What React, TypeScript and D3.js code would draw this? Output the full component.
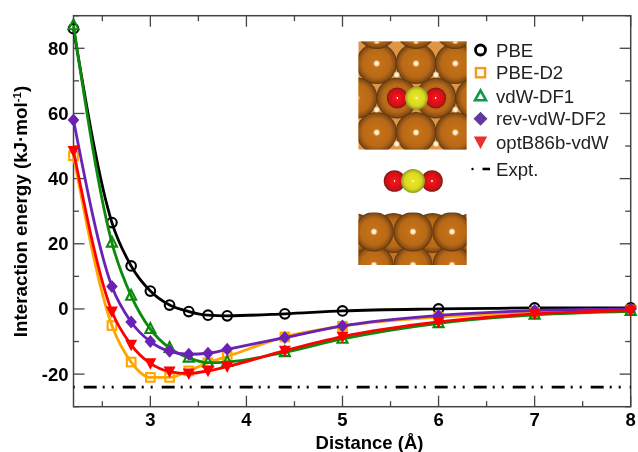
import React from "react";
import * as d3 from "d3";

const distances = [2.2, 2.6, 2.8, 3.0, 3.2, 3.4, 3.6, 3.8, 4.4, 5, 6, 7, 8];
const pbe = [86, 26.5, 13.2, 5.5, 1.2, -0.8, -1.9, -2.1, -1.5, -0.6, 0, 0.3, 0.3];
const pbeD2 = [47, -5.1, -16.3, -21, -21, -19, -16.5, -14.6, -8.6, -5.3, -2.5, -1, -0.3];
const vdwDf1 = [87, 20.3, 4, -6.2, -12, -15, -16.5, -16.3, -13.3, -9.2, -4.4, -1.8, -0.7];
const revVdwDf2 = [58, 6.9, -4, -10, -13, -13.9, -13.6, -12.4, -8.8, -5.2, -2, -0.5, 0];
const optB86b = [48.5, -0.8, -11, -16.7, -19.2, -19.8, -19, -17.7, -12.8, -8.5, -4, -1.5, -0.5];
const expt = -24;

const xMajor = [3, 4, 5, 6, 7, 8];
const xMinor = [2.5, 3.5, 4.5, 5.5, 6.5, 7.5];
const yMajor = [-20, 0, 20, 40, 60, 80];
const yMinor = [-30, -10, 10, 30, 50, 70, 90];

const legendNames = ["PBE", "PBE-D2", "vdW-DF1", "rev-vdW-DF2", "optB86b-vdW"];
const legendColors = ["#000000", "#f59a1e", "#0c9a4a", "#5e3a9e", "#e8312a"];
const seriesColors = ["#000000", "#ffa500", "#0a8a0a", "#6b22b5", "#ff0000"];
const seriesValues = [pbe, pbeD2, vdwDf1, revVdwDf2, optB86b];
const legendY = [50, 72.7, 96, 118.7, 142];

const topCols = [376.7, 416, 455.3];
const topOffsetCols = [357, 396.7, 436, 475.7];
const topRows = [63.5, 132.5];
const topMiddleRow = 98;
const topDots: [number, number][] = [
  [376.7, 41], [416, 41], [455.3, 41], [396.7, 74.7], [436, 74.7],
  [376.7, 109.7], [455.3, 109.7], [396.7, 144], [436, 144],
];
const sideFrontCols = [374, 413, 452];
const sideBackCols = [354, 393.5, 432.5, 472];

const W = 638, H = 452;
const margin = { left: 73.5, right: 630.7, top: 15.7, bottom: 406.7 };
const x = d3.scaleLinear().domain([2.2, 8]).range([margin.left, margin.right]);
const y = d3.scaleLinear().domain([-30, 90]).range([margin.bottom, margin.top]);
const AXIS = "#444";
const FONT = "'Liberation Sans', Arial, sans-serif";

function Marker({ i, cx, cy, legend }: { i: number; cx: number; cy: number; legend?: boolean }) {
  const c = legend ? legendColors[i] : seriesColors[i];
  const t = `translate(${cx},${cy})`;
  if (legend) {
    if (i === 0) return <circle cx={cx} cy={cy} r={5} fill="none" stroke={c} strokeWidth={2.8} />;
    if (i === 1) return <rect x={cx - 4.6} y={cy - 4.6} width={9.2} height={9.2} fill="none" stroke={c} strokeWidth={2.4} />;
    if (i === 2) return <path transform={t} d="M0,-5.5L5.5,4.2L-5.5,4.2Z" fill="none" stroke={c} strokeWidth={2.6} />;
    if (i === 3) return <path transform={t} d="M0,-7L7,0L0,7L-7,0Z" fill={c} />;
    return <path transform={t} d="M-6.7,-5.5L6.7,-5.5L0,7Z" fill={c} />;
  }
  const sw = 2.1;
  if (i === 0) return <circle cx={cx} cy={cy} r={4.8} fill="none" stroke={c} strokeWidth={sw} />;
  if (i === 1) return <rect x={cx - 4.3} y={cy - 4.3} width={8.6} height={8.6} fill="none" stroke={c} strokeWidth={sw} />;
  if (i === 2) return <path transform={t} d="M0,-6L5,3.8L-5,3.8Z" fill="none" stroke={c} strokeWidth={sw} />;
  if (i === 3) return <path transform={t} d="M0,-6.5L5.8,0L0,6.5L-5.8,0Z" fill={c} />;
  return <path transform={t} d="M-6,-5L6,-5L0,6.5Z" fill={c} />;
}

function Sphere({ cx, cy, r, g, hl }: { cx: number; cy: number; r: number; g: string; hl?: number }) {
  return (
    <g>
      <circle cx={cx} cy={cy} r={r} fill={`url(#${g})`} />
      <circle cx={cx} cy={cy} r={hl ?? 3.8} fill="url(#hl)" />
    </g>
  );
}

export default function App() {
  const line = d3.line<number>()
    .x((_, i) => x(distances[i]))
    .y((d) => y(d))
    .curve(d3.curveMonotoneX);

  const tick = (k: string, x1: number, y1: number, x2: number, y2: number) => (
    <line key={k} x1={x1} y1={y1} x2={x2} y2={y2} stroke={AXIS} strokeWidth={1.3} />
  );

  return (
    <svg width={W} height={H} style={{ position: "absolute", left: 0, top: 0, background: "#fff" }} fontFamily={FONT}>
      <defs>
        <filter id="soft" x="-5%" y="-5%" width="110%" height="110%">
          <feGaussianBlur stdDeviation="0.5" />
        </filter>
        <radialGradient id="cu" cx="50%" cy="50%" r="50%">
          <stop offset="0%" stopColor="#c8721a" />
          <stop offset="68%" stopColor="#b96a16" />
          <stop offset="90%" stopColor="#8a4e12" />
          <stop offset="100%" stopColor="#5a3610" />
        </radialGradient>
        <radialGradient id="ox" cx="50%" cy="50%" r="50%">
          <stop offset="0%" stopColor="#f0141c" />
          <stop offset="70%" stopColor="#dc1018" />
          <stop offset="100%" stopColor="#7d1a16" />
        </radialGradient>
        <radialGradient id="su" cx="50%" cy="50%" r="50%">
          <stop offset="0%" stopColor="#eaea20" />
          <stop offset="70%" stopColor="#d8d820" />
          <stop offset="100%" stopColor="#8f9a22" />
        </radialGradient>
        <radialGradient id="hl" cx="50%" cy="50%" r="50%">
          <stop offset="0%" stopColor="#fffaf0" />
          <stop offset="50%" stopColor="#ffecc8" />
          <stop offset="100%" stopColor="#ffd090" stopOpacity="0" />
        </radialGradient>
        <clipPath id="topClip"><rect x={358.5} y={41.5} width={108} height={108} /></clipPath>
        <clipPath id="sideClip"><rect x={358.5} y={212.5} width={108} height={52.5} /></clipPath>
      </defs>

      <g filter="url(#soft)">
        {/* frame */}
        <rect x={margin.left} y={margin.top} width={margin.right - margin.left} height={margin.bottom - margin.top}
          fill="none" stroke={AXIS} strokeWidth={1.5} />
        {xMajor.map((v) => tick(`xb${v}`, x(v), margin.bottom, x(v), margin.bottom - 11))}
        {xMajor.map((v) => tick(`xt${v}`, x(v), margin.top, x(v), margin.top + 11))}
        {xMinor.map((v) => tick(`xbm${v}`, x(v), margin.bottom, x(v), margin.bottom - 5.5))}
        {xMinor.map((v) => tick(`xtm${v}`, x(v), margin.top, x(v), margin.top + 5.5))}
        {yMajor.map((v) => tick(`yl${v}`, margin.left, y(v), margin.left + 11, y(v)))}
        {yMajor.map((v) => tick(`yr${v}`, margin.right, y(v), margin.right - 11, y(v)))}
        {yMinor.map((v) => tick(`ylm${v}`, margin.left, y(v), margin.left + 5.5, y(v)))}
        {yMinor.map((v) => tick(`yrm${v}`, margin.right, y(v), margin.right - 5.5, y(v)))}

        {/* tick labels */}
        {xMajor.map((v) => (
          <text key={v} x={x(v)} y={426} textAnchor="middle" fontSize={18.5} fontWeight="bold" fill="#000">{v}</text>
        ))}
        {yMajor.map((v) => (
          <text key={v} x={68.5} y={y(v) + 6.5} textAnchor="end" fontSize={18.5} fontWeight="bold" fill="#000">{v}</text>
        ))}

        {/* axis titles */}
        <text x={369.5} y={449} textAnchor="middle" fontSize={18.5} fontWeight="bold" fill="#000">Distance (Å)</text>
        <text transform="translate(27,211.5) rotate(-90)" textAnchor="middle" fontSize={18.8} fontWeight="bold" fill="#000">
          Interaction energy (kJ·mol<tspan dy={-6} fontSize={11.5}>-1</tspan><tspan dy={6}>)</tspan>
        </text>

        {/* experiment */}
        <line x1={margin.left} x2={margin.right} y1={y(expt)} y2={y(expt)} stroke="#000" strokeWidth={2.8}
          strokeDasharray="13 6 2 7 2 9" strokeDashoffset={28.8} />

        {/* series */}
        {seriesValues.map((vals, i) => (
          <g key={i}>
            <path d={line(vals) ?? ""} fill="none" stroke={seriesColors[i]} strokeWidth={2.8} />
            {vals.map((v, j) => (
              <Marker key={j} i={i} cx={x(distances[j])} cy={y(v)} />
            ))}
          </g>
        ))}

        {/* inset: top view */}
        <g clipPath="url(#topClip)">
          <rect x={358} y={41} width={109} height={109} fill="#e09646" />
          {topOffsetCols.map((cx) => <Sphere key={cx} cx={cx} cy={topMiddleRow} r={20.5} g="cu" hl={3.2} />)}
          {topRows.flatMap((cy) => topCols.map((cx) => <Sphere key={`${cx}-${cy}`} cx={cx} cy={cy} r={20.5} g="cu" />))}
          {topCols.map((cx) => <Sphere key={`t${cx}`} cx={cx} cy={28.5} r={20.5} g="cu" />)}
          {topDots.map(([cx, cy]) => <circle key={`${cx}-${cy}`} cx={cx} cy={cy} r={3.6} fill="url(#hl)" />)}
          <Sphere cx={397.3} cy={98} r={10.5} g="ox" hl={1.2} />
          <Sphere cx={435.7} cy={98} r={10.5} g="ox" hl={1.2} />
          <Sphere cx={416.5} cy={98} r={11.5} g="su" hl={1.8} />
        </g>

        {/* inset: side molecule */}
        <Sphere cx={394.5} cy={181} r={10.8} g="ox" hl={1.2} />
        <Sphere cx={432} cy={181} r={10.8} g="ox" hl={1.2} />
        <Sphere cx={413} cy={181} r={12} g="su" hl={1.4} />

        {/* inset: side slab */}
        <g clipPath="url(#sideClip)">
          <rect x={358} y={226} width={109} height={40} fill="#c4761f" />
          {sideBackCols.map((cx) => <circle key={cx} cx={cx} cy={233} r={20} fill="url(#cu)" />)}
          {sideFrontCols.map((cx) => <Sphere key={`b${cx}`} cx={cx} cy={265} r={19.5} g="cu" />)}
          {sideFrontCols.map((cx) => <Sphere key={`f${cx}`} cx={cx} cy={231.7} r={19.7} g="cu" />)}
        </g>

        {/* legend */}
        {legendNames.map((name, i) => (
          <g key={name}>
            <Marker i={i} cx={480.5} cy={legendY[i]} legend />
            <text x={496} y={legendY[i] + 6.5} fontSize={18.6} fill="#222">{name}</text>
          </g>
        ))}
        <circle cx={472.5} cy={169} r={1.2} fill="#000" />
        <line x1={482.5} x2={490} y1={169} y2={169} stroke="#000" strokeWidth={2.6} />
        <text x={496} y={175.5} fontSize={18.6} fill="#222">Expt.</text>
      </g>
    </svg>
  );
}
